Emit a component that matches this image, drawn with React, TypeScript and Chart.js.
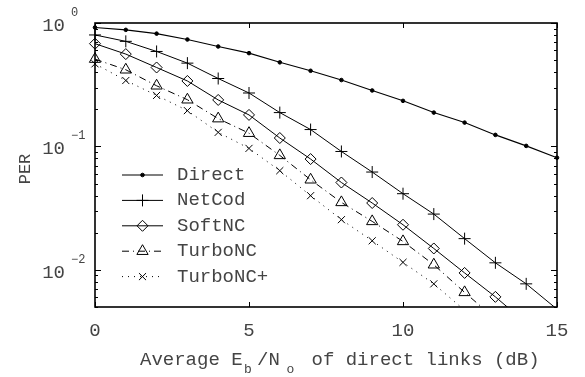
import React, { useEffect, useRef } from 'react';
import { Chart, registerables } from 'chart.js';
import { drawPoint } from 'chart.js/helpers';

Chart.register(...registerables);

// ---- data ----
const snrDb = [0, 1, 2, 3, 4, 5, 6, 7, 8, 9, 10, 11, 12, 13, 14, 15];
const direct = [0.92, 0.88, 0.82, 0.735, 0.645, 0.57, 0.48, 0.41, 0.345, 0.284, 0.234, 0.188, 0.156, 0.124, 0.101, 0.081];
const netCod = [0.8, 0.71, 0.588, 0.473, 0.355, 0.271, 0.188, 0.137, 0.091, 0.062, 0.0414, 0.0283, 0.0179, 0.0114, 0.0077, 0.0048];
const softNC = [0.68, 0.56, 0.436, 0.339, 0.238, 0.18, 0.117, 0.079, 0.051, 0.0348, 0.0232, 0.0149, 0.00944, 0.00604, 0.0037];
const turboNC = [0.51, 0.418, 0.31, 0.239, 0.168, 0.128, 0.0846, 0.0537, 0.0352, 0.0247, 0.017, 0.011, 0.00657, 0.004];
const turboNCPlus = [0.467, 0.342, 0.259, 0.195, 0.13, 0.0964, 0.0636, 0.0399, 0.0255, 0.0172, 0.0115, 0.0077, 0.0047];

const seriesNames = ['Direct', 'NetCod', 'SoftNC', 'TurboNC', 'TurboNC+'];
const xTickValues = [0, 5, 10, 15];
const yDecades = [0, -1, -2];
const X_MIN = 0;
const X_MAX = 15;
const Y_MIN = 0.005;
const Y_MAX = 1;

const FONT = '"Liberation Mono", "Courier New", monospace';
const TEXT = '#444';

const toPoints = (ys: number[]) => ys.map((y, i) => ({ x: snrDb[i], y }));

const hideBelow = (r: number) => (c: any) => (c.raw && c.raw.y < Y_MIN ? 0 : r);

const styles = [
  { pointStyle: 'circle', radius: 1.8, fill: '#000', dash: [] as number[], color: '#000', width: 1.1 },
  { pointStyle: 'cross', radius: 6, fill: 'rgba(0,0,0,0)', dash: [] as number[], color: '#000', width: 1 },
  { pointStyle: 'rectRot', radius: 5.5, fill: 'rgba(0,0,0,0)', dash: [] as number[], color: '#000', width: 1 },
  { pointStyle: 'triangle', radius: 6.5, fill: 'rgba(0,0,0,0)', dash: [7, 4, 1, 4], color: '#000', width: 1 },
  { pointStyle: 'crossRot', radius: 5, fill: 'rgba(0,0,0,0)', dash: [1, 5], color: '#000', width: 1 },
];

const seriesValues = [direct, netCod, softNC, turboNC, turboNCPlus];

const decorPlugin = {
  id: 'decor',
  afterDraw(chart: any) {
    const { ctx, chartArea } = chart;
    const xs = chart.scales.x;
    const ys = chart.scales.y;
    const { left, right, top, bottom } = chartArea;
    ctx.save();

    // ticks (inward, gnuplot style)
    ctx.strokeStyle = '#000';
    ctx.lineWidth = 1;
    ctx.setLineDash([]);
    ctx.beginPath();
    for (const v of xTickValues) {
      const px = Math.round(xs.getPixelForValue(v)) + 0.5;
      ctx.moveTo(px, bottom);
      ctx.lineTo(px, bottom - 5);
      ctx.moveTo(px, top);
      ctx.lineTo(px, top + 5);
    }
    for (let e = -3; e <= 0; e++) {
      for (let m = 1; m <= 9; m++) {
        const v = m * Math.pow(10, e);
        if (v < Y_MIN - 1e-12 || v > Y_MAX + 1e-12) continue;
        const py = Math.round(ys.getPixelForValue(v)) + 0.5;
        const len = m === 1 ? 6 : 3;
        ctx.moveTo(left, py);
        ctx.lineTo(left + len, py);
        ctx.moveTo(right, py);
        ctx.lineTo(right - len, py);
      }
    }
    ctx.stroke();

    // frame
    ctx.lineWidth = 1.6;
    ctx.strokeRect(left, top, right - left, bottom - top);

    // x tick labels
    ctx.fillStyle = TEXT;
    ctx.font = `19px ${FONT}`;
    ctx.textAlign = 'center';
    ctx.textBaseline = 'middle';
    for (const v of xTickValues) {
      ctx.fillText(String(v), xs.getPixelForValue(v), bottom + 24);
    }

    // y tick labels 10^e
    for (const e of yDecades) {
      const py = ys.getPixelForValue(Math.pow(10, e));
      ctx.font = `19px ${FONT}`;
      ctx.textAlign = 'right';
      ctx.textBaseline = 'middle';
      ctx.fillText('10', left - 30, py + 3);
      ctx.font = `12px ${FONT}`;
      ctx.textAlign = 'left';
      ctx.fillText(e === 0 ? '0' : '\u2212' + String(-e), left - 24, py - 10.5);
    }

    // y title
    ctx.save();
    ctx.translate(25, (top + bottom) / 2 + 4);
    ctx.rotate(-Math.PI / 2);
    ctx.font = `17px ${FONT}`;
    ctx.textAlign = 'center';
    ctx.textBaseline = 'middle';
    ctx.fillText('PER', 0, 0);
    ctx.restore();

    // x title with subscripts
    const ty = bottom + 53;
    ctx.textAlign = 'left';
    ctx.textBaseline = 'middle';
    ctx.font = `19px ${FONT}`;
    ctx.fillText('Average E', 140, ty);
    ctx.font = `13px ${FONT}`;
    ctx.fillText('b', 244, ty + 10);
    ctx.font = `19px ${FONT}`;
    ctx.fillText('/N', 257, ty);
    ctx.font = `13px ${FONT}`;
    ctx.fillText('o', 286.5, ty + 10);
    ctx.font = `19px ${FONT}`;
    ctx.fillText('of direct links (dB)', 311.5, ty);

    // legend
    const lx0 = left + 27;
    const lx1 = left + 68;
    const mx = (lx0 + lx1) / 2;
    const ly0 = top + 152;
    const step = 25.4;
    seriesNames.forEach((name, i) => {
      const s = styles[i];
      const y = ly0 + i * step;
      ctx.strokeStyle = s.color;
      ctx.lineWidth = s.width;
      ctx.setLineDash(s.dash);
      ctx.beginPath();
      ctx.moveTo(lx0, y);
      ctx.lineTo(lx1, y);
      ctx.stroke();
      ctx.setLineDash([]);
      ctx.fillStyle = s.fill;
      ctx.lineWidth = 1;
      drawPoint(ctx, { pointStyle: s.pointStyle, radius: s.radius, borderWidth: 1, rotation: 0 } as any, mx, y);
      ctx.fillStyle = TEXT;
      ctx.font = `19px ${FONT}`;
      ctx.textAlign = 'left';
      ctx.textBaseline = 'middle';
      ctx.fillText(name, lx1 + 14, y);
    });

    ctx.restore();
  },
};

export default function App() {
  const ref = useRef<HTMLCanvasElement | null>(null);
  useEffect(() => {
    if (!ref.current) return;
    const chart = new Chart(ref.current, {
      type: 'line',
      data: {
        datasets: seriesNames.map((name, i) => {
          const s = styles[i];
          return {
            label: name,
            data: toPoints(seriesValues[i]),
            borderColor: s.color,
            borderWidth: s.width,
            borderDash: s.dash,
            backgroundColor: s.fill,
            pointStyle: s.pointStyle as any,
            pointRadius: hideBelow(s.radius),
            pointBorderColor: '#000',
            pointBackgroundColor: s.fill,
            pointBorderWidth: 1,
            tension: 0,
            fill: false,
            clip: { left: 12, top: 12, right: 12, bottom: 0 },
          } as any;
        }),
      },
      options: {
        animation: false,
        responsive: false,
        devicePixelRatio: 1,
        layout: { padding: { left: 95, right: 28, top: 23, bottom: 70 } },
        plugins: { legend: { display: false }, tooltip: { enabled: false }, title: { display: false } },
        scales: {
          x: { type: 'linear', min: X_MIN, max: X_MAX, display: false },
          y: { type: 'logarithmic', min: Y_MIN, max: Y_MAX, display: false },
        },
      },
      plugins: [decorPlugin],
    });
    return () => chart.destroy();
  }, []);
  return (
    <div style={{ position: 'absolute', left: 0, top: 0, width: 585, height: 377, background: '#fff' }}>
      <canvas ref={ref} width={585} height={377} style={{ display: 'block' }} />
    </div>
  );
}
